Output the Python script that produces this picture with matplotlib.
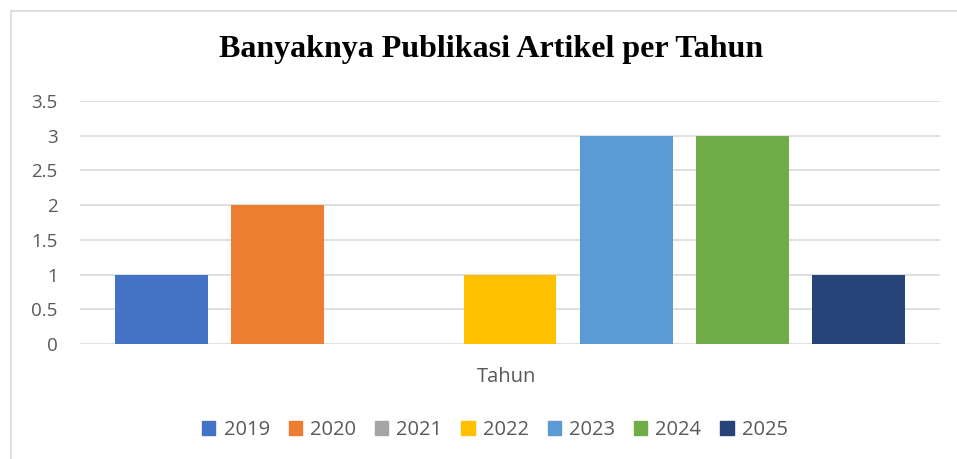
import matplotlib.pyplot as plt
from matplotlib.patches import Patch
from matplotlib.lines import Line2D

# data
years = ['2019', '2020', '2021', '2022', '2023', '2024', '2025']
counts = [1, 2, 0, 1, 3, 3, 1]
colors = ['#4472C4', '#ED7D31', '#A5A5A5', '#FFC000', '#5B9BD5', '#70AD47', '#264478']
yticks = [0, 0.5, 1, 1.5, 2, 2.5, 3, 3.5]

W, H = 957, 459
fig = plt.figure(figsize=(W / 100, H / 100), dpi=100)
ax = fig.add_axes([80 / W, 1 - 344 / H, 860 / W, (344 - 101) / H])

for i, (y, c, col) in enumerate(zip(years, counts, colors)):
    ax.bar(i, c, width=0.8, color=col, label=y, zorder=3)

ax.set_xlim(-0.70, 6.70)
ax.set_ylim(0, 3.5)
ax.set_yticks(yticks)
ax.set_yticklabels(['0', '0.5', '1', '1.5', '2', '2.5', '3', '3.5'])
ax.set_xticks([])
ax.grid(axis='y', color='#d9d9d9', linewidth=1.2, zorder=0)
for s in ax.spines.values():
    s.set_visible(False)
ax.tick_params(axis='y', length=0, pad=16, labelsize=13.5, labelcolor='#595959')
for lbl in ax.get_yticklabels():
    lbl.set_fontfamily('Open Sans')

fig.text(507 / W, 1 - 377 / H, 'Tahun', ha='center', va='center',
         fontsize=14.5, color='#595959', family='Open Sans')
fig.text(491 / W, 1 - 50 / H, 'Banyaknya Publikasi Artikel per Tahun', ha='center', va='center',
         fontsize=23, fontweight='bold', family='Liberation Serif', color='black')

# chart border (top and left visible)
fig.add_artist(Line2D([10.5 / W, 10.5 / W], [0, 1 - 11 / H], color='#d9d9d9', lw=1.2))
fig.add_artist(Line2D([10.5 / W, 1], [1 - 11 / H, 1 - 11 / H], color='#d9d9d9', lw=1.2))

handles = [Patch(color=c, label=y) for y, c in zip(years, colors)]
leg = fig.legend(handles=handles, loc='center', bbox_to_anchor=(495 / W, 1 - 430 / H), ncol=7,
                 frameon=False, handlelength=0.65, handleheight=0.65, handletextpad=0.4,
                 columnspacing=0.95, prop={'family': 'Open Sans', 'size': 14.5})
for t in leg.get_texts():
    t.set_color('#595959')

fig.savefig('out.png', dpi=100)
